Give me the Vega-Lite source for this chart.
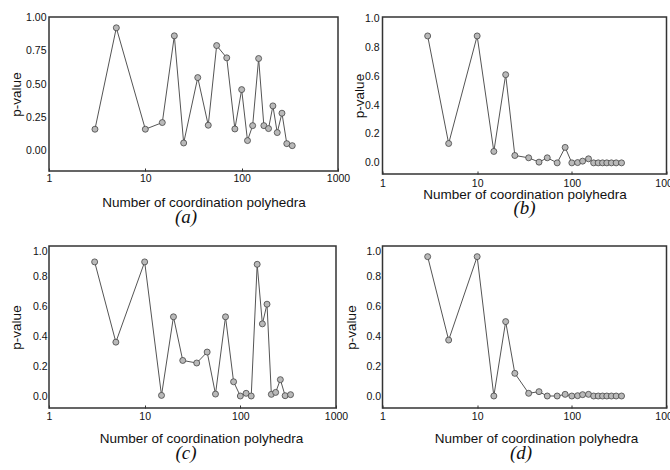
{
  "$schema": "https://vega.github.io/schema/vega-lite/v6.json",
  "padding": {"left": 8, "top": 11, "right": 0, "bottom": 0},
  "background": "white",
  "config": {
    "font": "Liberation Sans",
    "view": {"stroke": "#333333", "strokeWidth": 1.5},
    "axis": {"grid": false, "domain": false, "ticks": false, "labelColor": "#111111", "titleColor": "#111111", "labelFontSize": 10.5, "titleFontSize": 13.5, "titleFontWeight": "normal", "labelFont": "Liberation Sans", "titleFont": "Liberation Sans"},
    "axisX": {"ticks": true, "tickSize": -3, "tickColor": "#333333", "tickWidth": 1},
    "title": {"font": "Liberation Serif", "fontStyle": "italic", "fontWeight": "normal", "fontSize": 19, "color": "#111111", "orient": "bottom", "frame": "group", "anchor": "middle", "offset": 0}
  },
  "datasets": {
    "a": [
      {"n": 3, "p": 0.163}, {"n": 5, "p": 0.923}, {"n": 10, "p": 0.163}, {"n": 15, "p": 0.213}, {"n": 20, "p": 0.863}, {"n": 25, "p": 0.06}, {"n": 35, "p": 0.55}, {"n": 45, "p": 0.193}, {"n": 55, "p": 0.79}, {"n": 70, "p": 0.698}, {"n": 85, "p": 0.165}, {"n": 100, "p": 0.46}, {"n": 115, "p": 0.078}, {"n": 130, "p": 0.19}, {"n": 150, "p": 0.693}, {"n": 170, "p": 0.19}, {"n": 190, "p": 0.168}, {"n": 211, "p": 0.338}, {"n": 234, "p": 0.138}, {"n": 262, "p": 0.283}, {"n": 294, "p": 0.055}, {"n": 335, "p": 0.04}
    ],
    "b": [
      {"n": 3, "p": 0.878}, {"n": 5, "p": 0.134}, {"n": 10, "p": 0.878}, {"n": 15, "p": 0.079}, {"n": 20, "p": 0.61}, {"n": 25, "p": 0.051}, {"n": 35, "p": 0.035}, {"n": 45, "p": 0.005}, {"n": 55, "p": 0.035}, {"n": 70, "p": 0.0}, {"n": 85, "p": 0.107}, {"n": 100, "p": 0.0}, {"n": 115, "p": 0.002}, {"n": 130, "p": 0.012}, {"n": 150, "p": 0.028}, {"n": 170, "p": 0.0}, {"n": 190, "p": 0.0}, {"n": 211, "p": 0.0}, {"n": 234, "p": 0.0}, {"n": 262, "p": 0.0}, {"n": 294, "p": 0.0}, {"n": 335, "p": 0.0}
    ],
    "c": [
      {"n": 3, "p": 0.894}, {"n": 5, "p": 0.359}, {"n": 10, "p": 0.894}, {"n": 15, "p": 0.004}, {"n": 20, "p": 0.528}, {"n": 25, "p": 0.237}, {"n": 35, "p": 0.22}, {"n": 45, "p": 0.293}, {"n": 55, "p": 0.013}, {"n": 70, "p": 0.528}, {"n": 85, "p": 0.095}, {"n": 100, "p": 0.0}, {"n": 115, "p": 0.018}, {"n": 130, "p": 0.0}, {"n": 150, "p": 0.878}, {"n": 170, "p": 0.481}, {"n": 190, "p": 0.612}, {"n": 211, "p": 0.011}, {"n": 234, "p": 0.024}, {"n": 262, "p": 0.109}, {"n": 294, "p": 0.002}, {"n": 335, "p": 0.009}
    ],
    "d": [
      {"n": 3, "p": 0.929}, {"n": 5, "p": 0.373}, {"n": 10, "p": 0.929}, {"n": 15, "p": 0.0}, {"n": 20, "p": 0.496}, {"n": 25, "p": 0.151}, {"n": 35, "p": 0.018}, {"n": 45, "p": 0.029}, {"n": 55, "p": 0.0}, {"n": 70, "p": 0.0}, {"n": 85, "p": 0.011}, {"n": 100, "p": 0.0}, {"n": 115, "p": 0.002}, {"n": 130, "p": 0.009}, {"n": 150, "p": 0.011}, {"n": 170, "p": 0.0}, {"n": 190, "p": 0.0}, {"n": 211, "p": 0.0}, {"n": 234, "p": 0.0}, {"n": 262, "p": 0.0}, {"n": 294, "p": 0.0}, {"n": 335, "p": 0.0}
    ]
  },
  "bounds": "full",
  "spacing": 17,
  "vconcat": [
    {
      "bounds": "flush",
      "spacing": 44.5,
      "hconcat": [
        {
          "width": 289, "height": 154,
          "title": {"text": "(a)", "dx": -7.5, "dy": -5},
          "data": {"name": "a"},
          "encoding": {
            "x": {"field": "n", "type": "quantitative", "scale": {"type": "log", "domain": [1, 1000]}, "axis": {"values": [1, 10, 100, 1000], "format": "d", "labelFlush": false, "labelPadding": 5, "title": "Number of coordination polyhedra", "titleX": 154.5, "titleY": 31.7, "titleBaseline": "middle"}},
            "y": {"field": "p", "type": "quantitative", "scale": {"domain": [-0.15, 1.004], "nice": false, "zero": false}, "axis": {"values": [0, 0.25, 0.5, 0.75, 1], "format": ".2f", "labelPadding": 3, "title": "p-value", "titleX": -33, "titleBaseline": "middle"}}
          },
          "layer": [
            {"mark": {"type": "line", "color": "#555555", "strokeWidth": 1}},
            {"mark": {"type": "circle", "size": 36, "fill": "#b9b9b9", "stroke": "#444444", "strokeWidth": 0.8, "opacity": 1, "fillOpacity": 1}}
          ]
        },
        {
          "width": 284, "height": 157,
          "title": {"text": "(b)", "dx": 0, "dy": -6},
          "data": {"name": "b"},
          "encoding": {
            "x": {"field": "n", "type": "quantitative", "scale": {"type": "log", "domain": [1, 1000]}, "axis": {"values": [1, 10, 100, 1000], "format": "d", "labelFlush": false, "labelPadding": 7.5, "title": "Number of coordination polyhedra", "titleX": 142, "titleY": 20.5, "titleBaseline": "middle"}},
            "y": {"field": "p", "type": "quantitative", "scale": {"domain": [-0.077, 1.009], "nice": false, "zero": false}, "axis": {"values": [0, 0.2, 0.4, 0.6, 0.8, 1], "format": ".1f", "labelPadding": 3.5, "title": "p-value", "titleX": -23.5, "titleBaseline": "middle"}}
          },
          "layer": [
            {"mark": {"type": "line", "color": "#555555", "strokeWidth": 1}},
            {"mark": {"type": "circle", "size": 36, "fill": "#b9b9b9", "stroke": "#444444", "strokeWidth": 0.8, "opacity": 1, "fillOpacity": 1}}
          ]
        }
      ]
    },
    {
      "bounds": "flush",
      "spacing": 46.5,
      "hconcat": [
        {
          "width": 287, "height": 162,
          "title": {"text": "(c)", "dx": -6.5, "dy": -5},
          "data": {"name": "c"},
          "encoding": {
            "x": {"field": "n", "type": "quantitative", "scale": {"type": "log", "domain": [1, 1000]}, "axis": {"values": [1, 10, 100, 1000], "format": "d", "labelFlush": false, "labelPadding": 6.5, "title": "Number of coordination polyhedra", "titleX": 152, "titleY": 30.2, "titleBaseline": "middle"}},
            "y": {"field": "p", "type": "quantitative", "scale": {"domain": [-0.08, 1.0], "nice": false, "zero": false}, "axis": {"values": [0, 0.2, 0.4, 0.6, 0.8, 1], "format": ".1f", "labelPadding": 2, "labelFlush": true, "title": "p-value", "titleX": -33, "titleBaseline": "middle"}}
          },
          "layer": [
            {"mark": {"type": "line", "color": "#555555", "strokeWidth": 1}},
            {"mark": {"type": "circle", "size": 36, "fill": "#b9b9b9", "stroke": "#444444", "strokeWidth": 0.8, "opacity": 1, "fillOpacity": 1}}
          ]
        },
        {
          "width": 284, "height": 162,
          "title": {"text": "(d)", "dx": -3.5, "dy": -5},
          "data": {"name": "d"},
          "encoding": {
            "x": {"field": "n", "type": "quantitative", "scale": {"type": "log", "domain": [1, 1000]}, "axis": {"values": [1, 10, 100, 1000], "format": "d", "labelFlush": false, "labelPadding": 6.5, "title": "Number of coordination polyhedra", "titleX": 153.5, "titleY": 30.2, "titleBaseline": "middle"}},
            "y": {"field": "p", "type": "quantitative", "scale": {"domain": [-0.08, 1.0], "nice": false, "zero": false}, "axis": {"values": [0, 0.2, 0.4, 0.6, 0.8, 1], "format": ".1f", "labelPadding": 2, "labelFlush": true, "title": "p-value", "titleX": -31.5, "titleBaseline": "middle"}}
          },
          "layer": [
            {"mark": {"type": "line", "color": "#555555", "strokeWidth": 1}},
            {"mark": {"type": "circle", "size": 36, "fill": "#b9b9b9", "stroke": "#444444", "strokeWidth": 0.8, "opacity": 1, "fillOpacity": 1}}
          ]
        }
      ]
    }
  ]
}
